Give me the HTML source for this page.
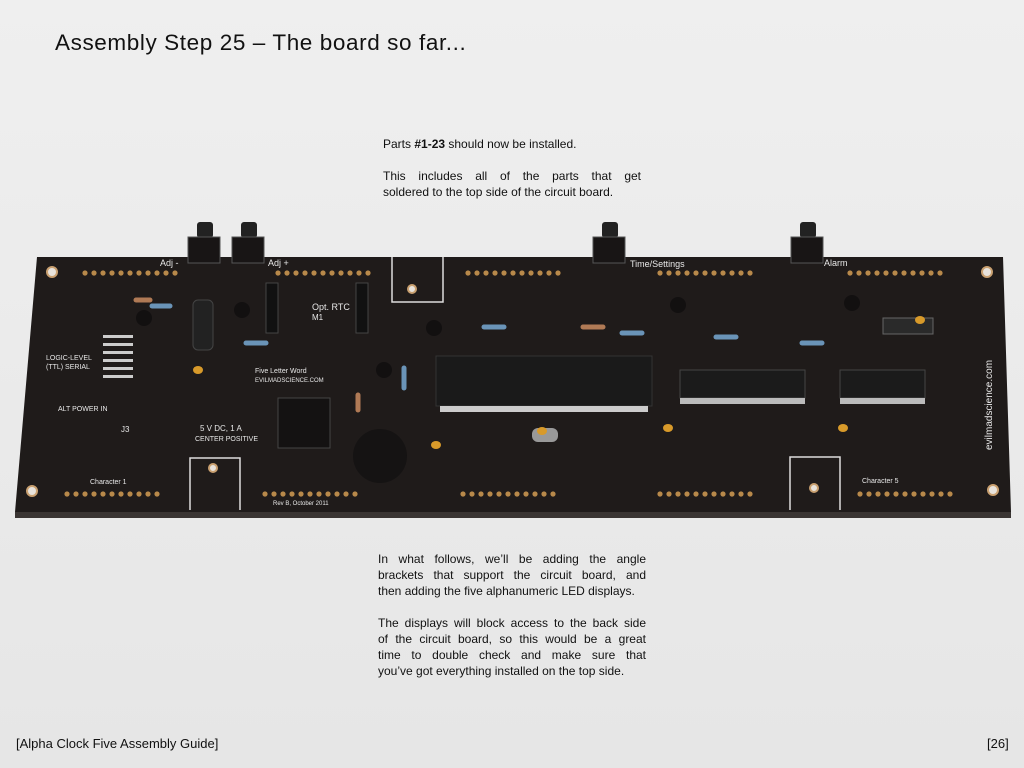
<!DOCTYPE html>
<html><head><meta charset="utf-8"><style>
html,body{margin:0;padding:0}
body{width:1024px;height:768px;background:#ebebeb;position:relative;overflow:hidden;font-family:"Liberation Sans","DejaVu Sans",sans-serif;color:#111}
.t{position:absolute;left:55px;top:30px;font-size:22.5px;letter-spacing:0.6px;white-space:nowrap}
.p{position:absolute;font-size:12px;line-height:16px}
.p div{text-align:justify;text-align-last:justify;white-space:nowrap;height:16px}
.p div.l{text-align-last:left}
.f{position:absolute;top:736px;font-size:13px}
svg{position:absolute;left:0;top:0}
</style></head><body>
<svg width="1024" height="768" viewBox="0 0 1024 768">
<defs>
<linearGradient id="bg" x1="0" y1="0" x2="0" y2="1"><stop offset="0" stop-color="#efefef"/><stop offset="1" stop-color="#e6e6e6"/></linearGradient>
<g id="row" fill="#b8894a"><circle cx="0" cy="0" r="2.6"/><circle cx="9" cy="0" r="2.6"/><circle cx="18" cy="0" r="2.6"/><circle cx="27" cy="0" r="2.6"/><circle cx="36" cy="0" r="2.6"/><circle cx="45" cy="0" r="2.6"/><circle cx="54" cy="0" r="2.6"/><circle cx="63" cy="0" r="2.6"/><circle cx="72" cy="0" r="2.6"/><circle cx="81" cy="0" r="2.6"/><circle cx="90" cy="0" r="2.6"/></g>
</defs>
<rect width="1024" height="768" fill="url(#bg)"/>
<polygon points="15,512 1011,512 1011,518 15,518" fill="#3a3533"/>
<polygon points="37,257 1003,257 1011,512 15,512" fill="#1f1b1a"/>
<g fill="#e8e3dc" stroke="#c9a070" stroke-width="2">
<circle cx="52" cy="272" r="5"/><circle cx="32" cy="491" r="5"/><circle cx="987" cy="272" r="5"/><circle cx="993" cy="490" r="5"/>
<circle cx="412" cy="289" r="4"/><circle cx="213" cy="468" r="4"/><circle cx="814" cy="488" r="4"/>
</g>
<g stroke="#ddd" fill="none" stroke-width="1.5">
<path d="M392,257 V302 H443 V257"/><path d="M190,510 V458 H240 V510"/><path d="M790,510 V457 H840 V510"/>
</g>
<use href="#row" x="85" y="273"/><use href="#row" x="278" y="273"/><use href="#row" x="468" y="273"/><use href="#row" x="660" y="273"/><use href="#row" x="850" y="273"/>
<use href="#row" x="67" y="494"/><use href="#row" x="265" y="494"/><use href="#row" x="463" y="494"/><use href="#row" x="660" y="494"/><use href="#row" x="860" y="494"/>
<g>
<rect x="197" y="222" width="16" height="16" rx="3" fill="#222"/><rect x="188" y="237" width="32" height="26" fill="#181515" stroke="#555"/>
<rect x="241" y="222" width="16" height="16" rx="3" fill="#222"/><rect x="232" y="237" width="32" height="26" fill="#181515" stroke="#555"/>
<rect x="602" y="222" width="16" height="16" rx="3" fill="#222"/><rect x="593" y="237" width="32" height="26" fill="#181515" stroke="#555"/>
<rect x="800" y="222" width="16" height="16" rx="3" fill="#222"/><rect x="791" y="237" width="32" height="26" fill="#181515" stroke="#555"/>
</g>
<rect x="436" y="356" width="216" height="50" fill="#1a1a1a" stroke="#333"/>
<rect x="440" y="406" width="208" height="6" fill="#ccc"/>
<rect x="680" y="370" width="125" height="28" fill="#1b1b1b" stroke="#444"/>
<rect x="680" y="398" width="125" height="6" fill="#bbb"/>
<rect x="840" y="370" width="85" height="28" fill="#1b1b1b" stroke="#444"/>
<rect x="840" y="398" width="85" height="6" fill="#bbb"/>
<rect x="883" y="318" width="50" height="16" fill="#2a2a2a" stroke="#666"/>
<rect x="193" y="300" width="20" height="50" rx="5" fill="#222" stroke="#444"/>
<circle cx="380" cy="456" r="27" fill="#151313"/>
<rect x="278" y="398" width="52" height="50" fill="#141212" stroke="#444"/>
<rect x="532" y="428" width="26" height="14" rx="6" fill="#999"/>
<g stroke="#6a94b8" stroke-width="5" stroke-linecap="round">
<line x1="152" y1="306" x2="170" y2="306"/><line x1="246" y1="343" x2="266" y2="343"/><line x1="484" y1="327" x2="504" y2="327"/>
<line x1="622" y1="333" x2="642" y2="333"/><line x1="716" y1="337" x2="736" y2="337"/><line x1="802" y1="343" x2="822" y2="343"/><line x1="404" y1="368" x2="404" y2="388"/>
</g>
<g stroke="#b07a55" stroke-width="5" stroke-linecap="round"><line x1="583" y1="327" x2="603" y2="327"/><line x1="136" y1="300" x2="150" y2="300"/><line x1="358" y1="395" x2="358" y2="410"/></g>
<g fill="#121010"><circle cx="144" cy="318" r="8"/><circle cx="242" cy="310" r="8"/><circle cx="434" cy="328" r="8"/><circle cx="384" cy="370" r="8"/><circle cx="678" cy="305" r="8"/><circle cx="852" cy="303" r="8"/></g>
<g fill="#d89a2a"><ellipse cx="198" cy="370" rx="5" ry="4"/><ellipse cx="436" cy="445" rx="5" ry="4"/><ellipse cx="542" cy="431" rx="5" ry="4"/><ellipse cx="668" cy="428" rx="5" ry="4"/><ellipse cx="843" cy="428" rx="5" ry="4"/><ellipse cx="920" cy="320" rx="5" ry="4"/></g>
<g fill="#ccc"><rect x="103" y="335" width="30" height="3"/><rect x="103" y="343" width="30" height="3"/><rect x="103" y="351" width="30" height="3"/><rect x="103" y="359" width="30" height="3"/><rect x="103" y="367" width="30" height="3"/><rect x="103" y="375" width="30" height="3"/></g>
<rect x="266" y="283" width="12" height="50" fill="#111" stroke="#444"/>
<rect x="356" y="283" width="12" height="50" fill="#111" stroke="#444"/>
<g fill="#e8e8e8" font-family="Liberation Sans,sans-serif" font-size="7">
<text x="160" y="266" font-size="9">Adj -</text><text x="268" y="266" font-size="9">Adj +</text>
<text x="630" y="267" font-size="9">Time/Settings</text><text x="824" y="266" font-size="9">Alarm</text>
<text x="312" y="310" font-size="9">Opt. RTC</text><text x="312" y="320" font-size="8">M1</text>
<text x="46" y="360">LOGIC-LEVEL</text><text x="46" y="369">(TTL) SERIAL</text>
<text x="58" y="411">ALT POWER IN</text><text x="121" y="432" font-size="8">J3</text>
<text x="255" y="373">Five Letter Word</text><text x="255" y="382" font-size="6">EVILMADSCIENCE.COM</text>
<text x="200" y="431" font-size="8">5 V DC, 1 A</text><text x="195" y="441" font-size="7">CENTER POSITIVE</text>
<text x="90" y="484">Character 1</text><text x="862" y="483">Character 5</text>
<text x="273" y="505" font-size="6">Rev B, October 2011</text>
<text x="992" y="450" font-size="10" transform="rotate(-90 992 450)">evilmadscience.com</text>
</g>
</svg>
<div class="t">Assembly Step 25 – The board so far...</div>
<div class="p" style="left:383px;top:136px;width:258px">
<div class="l">Parts <b>#1-23</b> should now be installed.</div>
<div class="l"></div>
<div>This includes all of the parts that get</div>
<div class="l">soldered to the top side of the circuit board.</div>
</div>
<div class="p" style="left:378px;top:551px;width:268px">
<div>In what follows, we’ll be adding the angle</div>
<div>brackets that support the circuit board, and</div>
<div class="l">then adding the five alphanumeric LED displays.</div>
<div class="l"></div>
<div>The displays will block access to the back side</div>
<div>of the circuit board, so this would be a great</div>
<div>time to double check and make sure that</div>
<div class="l">you’ve got everything installed on the top side.</div>
</div>
<div class="f" style="left:16px">[Alpha Clock Five Assembly Guide]</div>
<div class="f" style="left:987px">[26]</div>
</body></html>
